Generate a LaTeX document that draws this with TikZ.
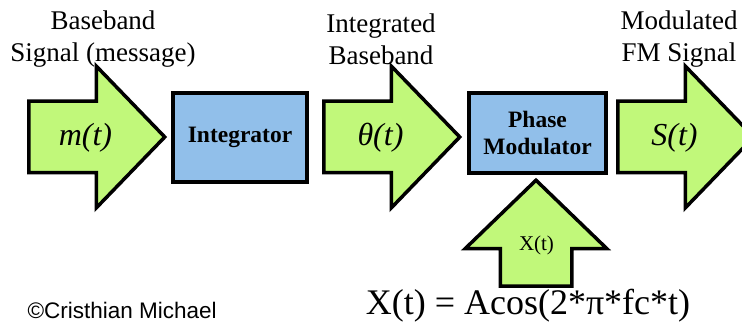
\documentclass[tikz,border=0pt]{standalone}
\usepackage{fontspec}
\setmainfont{Liberation Serif}
\newfontfamily\signfont{Liberation Sans}
\usetikzlibrary{shapes.arrows, positioning}
\definecolor{arrowgreen}{RGB}{193,248,122}
\definecolor{boxblue}{RGB}{145,191,234}
\newcommand{\sigtext}[1]{\makebox[0pt]{\hspace*{12pt}#1}}
\tikzstyle{sigarrow} = [single arrow, draw=black, line width=3.5pt, fill=arrowgreen, single arrow head extend=35pt, single arrow tip angle=92, minimum height=136pt, text height=23pt, text depth=5pt, inner xsep=0pt, inner ysep=20pt, font=\fontsize{32}{32}\selectfont\itshape]
\tikzstyle{block} = [rectangle, draw=black, line width=3.5pt, fill=boxblue, align=center, font=\fontsize{23.5}{27}\selectfont\bfseries]
\tikzstyle{caption} = [align=center, font=\fontsize{27}{32}\selectfont]

\begin{document}
\begin{tikzpicture}[x=1pt, y=-1pt]
\clip (0,0) rectangle (742,331);
\node (message) [sigarrow, anchor=tail] at (27,137) {\sigtext{m(t)}};
\node (integrator) [block, minimum width=134pt, minimum height=89pt] at (240,137.5) {Integrator};
\node (theta) [sigarrow, anchor=tail] at (322,137) {\sigtext{θ(t)}};
\node (phasemod) [block, minimum width=137pt, minimum height=80pt] at (537.5,133) {Phase\\Modulator};
\node (fmout) [sigarrow, anchor=tail] at (616,137) {\sigtext{S(t)}};
\node (carrier) [sigarrow, shape border rotate=90, minimum height=105pt, text width=34pt, align=center, inner xsep=17pt, anchor=tail, font=\fontsize{21}{21}\selectfont] at (536,288) {\raisebox{9pt}{X(t)}};
% labels over the arrows
\node (msglabel) [caption] at (103,39) {Baseband\\Signal (message)};
\node (intlabel) [caption] at (381,39) {Integrated\\Baseband};
\node (fmlabel) [caption] at (679,39) {Modulated\\FM Signal};
\node (formula) [font=\fontsize{36}{36}\selectfont] at (528,306) {X(t) = Acos(2*π*fc*t)};
\node (author) [anchor=west, font=\signfont\fontsize{22.5}{22.5}\selectfont] at (24,310) {©Cristhian Michael};
\end{tikzpicture}
\end{document}
